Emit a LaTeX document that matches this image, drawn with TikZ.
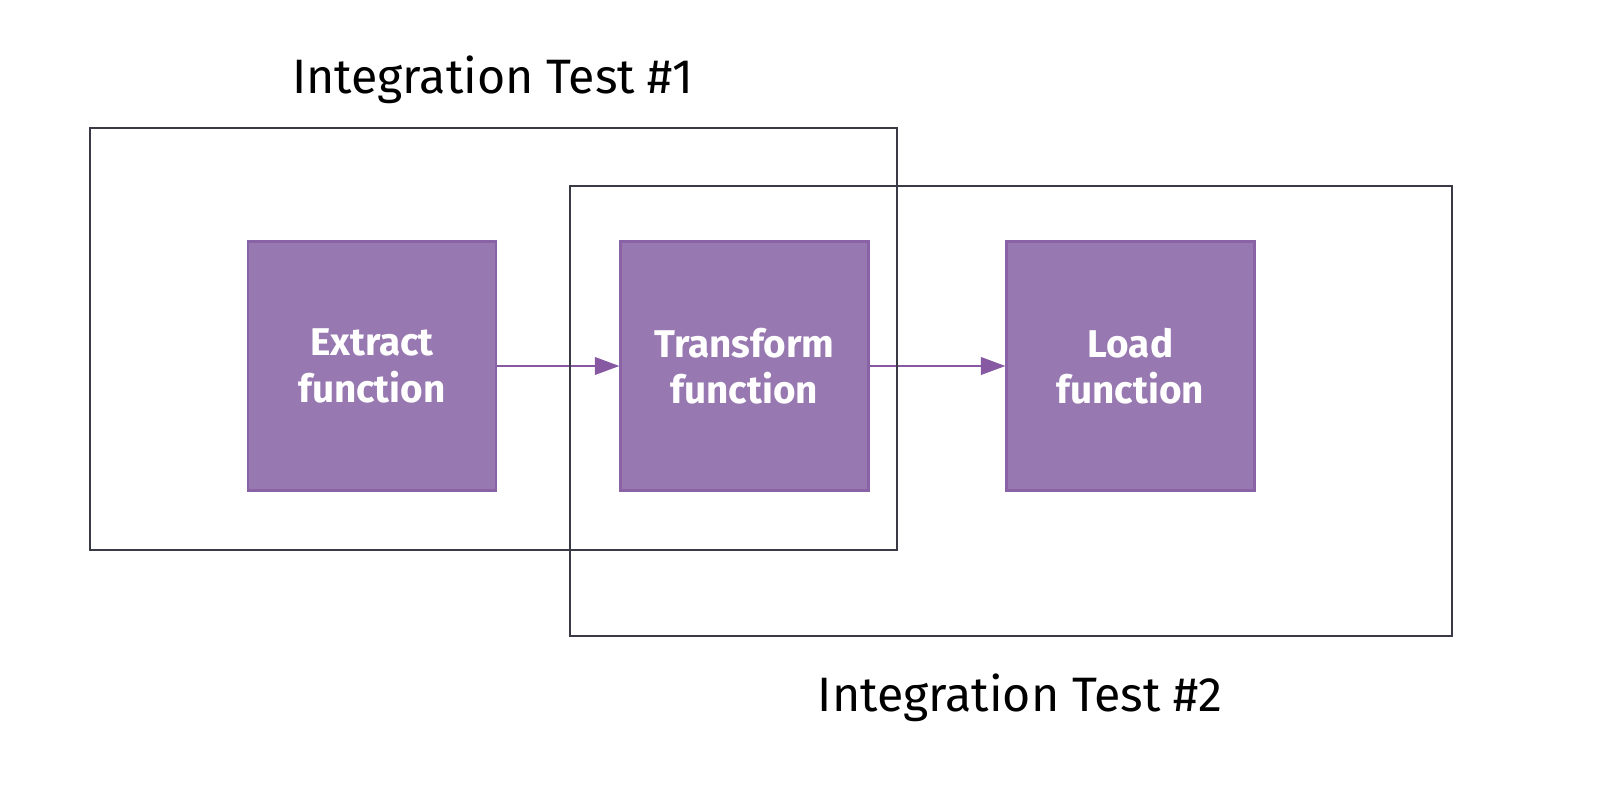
\documentclass[tikz,border=0pt]{standalone}
\usepackage{fontspec}
\setmainfont{Fira Sans}
\usetikzlibrary{arrows.meta}
\definecolor{boxfill}{HTML}{9778B0}
\definecolor{boxline}{HTML}{8A62A6}
\definecolor{arrowc}{HTML}{8659A2}
\definecolor{framec}{HTML}{3A3A46}
\tikzset{
  fn/.style={draw=boxline, line width=1.2pt, fill=boxfill, minimum width=248*0.02cm, minimum height=249*0.02cm,
    inner sep=0pt, text=white, align=center, font=\fontsize{22}{26.5}\selectfont\bfseries},
  flow/.style={draw=arrowc, line width=1.2pt, -{Triangle[length=14pt,width=10pt]}},
  frame/.style={draw=framec, line width=1.2pt},
  ttl/.style={font=\fontsize{27.5}{32}\selectfont, text=black, inner sep=0pt, anchor=base}
}
\begin{document}
\begin{tikzpicture}[x=0.02cm, y=-0.02cm]
\useasboundingbox (0,0) rectangle (1610,808);
\node[fn] (ext) at (372,366) {Extract\\function};
\node[fn] (tra) at (744.5,366) {Transform\\function};
\node[fn] (loa) at (1130.5,366) {Load\\function};
\draw[flow] (ext) -- (tra);
\draw[flow] (tra) -- (loa);
\draw[frame] (90,128) rectangle (897,550);
\draw[frame] (570,186) rectangle (1452,636);
\node[ttl] (t1) at (493,93) {Integration Test \#1};
\node[ttl] (t2) at (1020,711) {Integration Test \#2};
\end{tikzpicture}
\end{document}
